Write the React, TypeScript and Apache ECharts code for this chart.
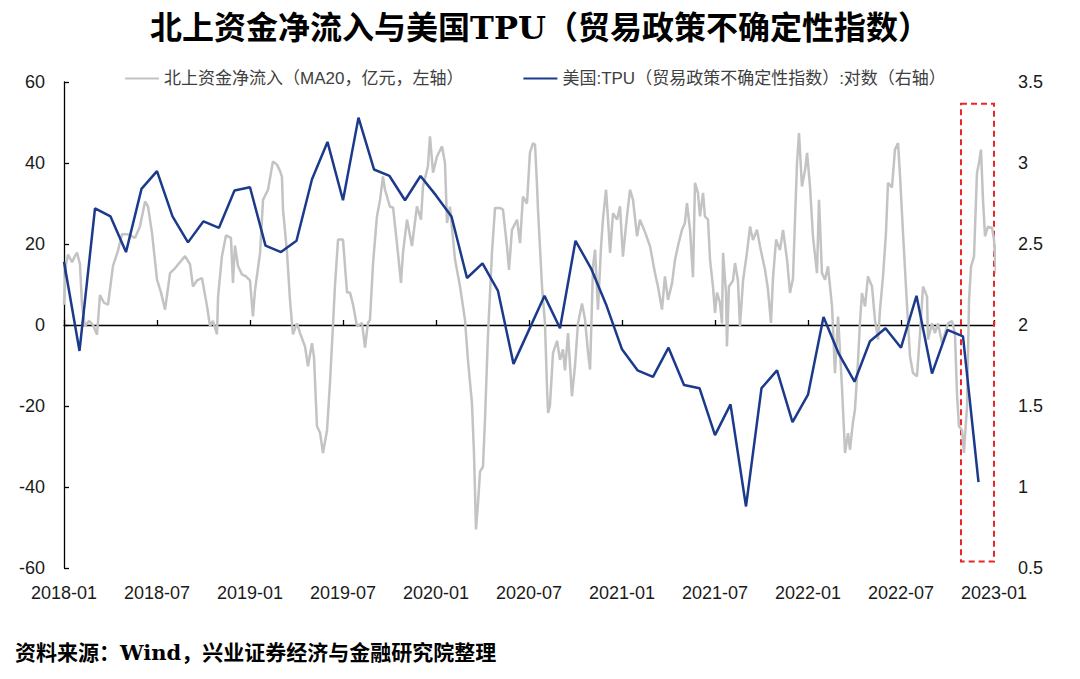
import React, { useEffect, useRef } from 'react';
import * as echarts from 'echarts';

// month offsets from 2018-01 on the x axis
const xTickLabels = [
  '2018-01', '2018-07', '2019-01', '2019-07', '2020-01', '2020-07',
  '2021-01', '2021-07', '2022-01', '2022-07', '2023-01',
];

const leftAxisName = '北上资金净流入（MA20，亿元，左轴）';
const rightAxisName = '美国:TPU（贸易政策不确定性指数）:对数（右轴）';

// monthly log TPU, 2018-01 .. 2022-12
const tpuValues = [
  2.39, 1.84, 2.72, 2.67, 2.45, 2.84, 2.95, 2.67, 2.51, 2.64, 2.6, 2.83,
  2.85, 2.49, 2.45, 2.52, 2.9, 3.13, 2.77, 3.28, 2.96, 2.92, 2.77, 2.92,
  2.8, 2.67, 2.29, 2.38, 2.21, 1.76, 1.97, 2.18, 1.98, 2.52, 2.35, 2.12,
  1.85, 1.72, 1.68, 1.86, 1.63, 1.61, 1.32, 1.51, 0.88, 1.61, 1.72, 1.4,
  1.57, 2.05, 1.82, 1.65, 1.9, 1.98, 1.86, 2.18, 1.7, 1.97, 1.93, 1.03,
];

// northbound net inflow MA20 [month offset, value]
const northbound: [number, number][] = [
  [0, 5], [0.13, 15], [0.26, 17.4], [0.52, 15.5], [0.71, 17], [0.84, 17.9], [1.03, 15],
  [1.16, 5], [1.35, -0.3], [1.61, 1], [1.87, 0], [2.13, -2.4], [2.32, 7.4], [2.58, 5.5],
  [2.84, 5], [3.16, 14.6], [3.48, 18.3], [3.74, 22.4], [4.13, 22.4], [4.58, 21.5], [4.9, 24.3],
  [5.23, 30.5], [5.42, 29.3], [5.68, 22.7], [6.0, 11.2], [6.26, 8], [6.52, 3.8], [6.84, 12.8],
  [7.16, 14], [7.48, 15.5], [7.81, 17], [8.13, 15], [8.32, 9.5], [8.58, 11], [8.9, 11.6],
  [9.23, 4.6], [9.42, -0.3], [9.61, 1], [9.87, -2.3], [9.94, 7], [10.19, 17], [10.45, 22.1],
  [10.77, 21.5], [10.9, 10.4], [11.03, 19.6], [11.23, 14.5], [11.48, 12.5], [11.74, 12],
  [12.0, 11], [12.19, 2.1], [12.32, 8.5], [12.65, 17.8], [12.84, 30.9], [13.16, 33.4],
  [13.48, 40.4], [13.74, 39.6], [13.94, 38], [14.06, 36.6], [14.13, 28.5], [14.39, 17.8],
  [14.58, 6.2], [14.77, -2.3], [15.03, 0.4], [15.23, -2], [15.55, -5.3], [15.74, -10.2],
  [16.0, -4.5], [16.13, -8], [16.32, -25], [16.52, -26.6], [16.71, -31.6], [16.97, -26],
  [17.16, -14.3], [17.35, -0.3], [17.48, 9.6], [17.68, 21.1], [18.0, 21.1], [18.26, 8],
  [18.45, 8], [18.65, 5], [18.9, -0.3], [19.23, 0.5], [19.42, -5.6], [19.61, 0.5],
  [19.74, 1.3], [19.94, 15.3], [20.19, 26.8], [20.39, 30.9], [20.58, 36.7], [20.71, 33.4],
  [21.03, 29.2], [21.23, 29], [21.48, 20.2], [21.74, 10.4], [21.87, 17.8], [22.13, 26],
  [22.45, 19.5], [22.77, 29.3], [23.03, 26], [23.16, 34.2], [23.48, 39.2], [23.61, 46.6],
  [23.81, 37.6], [24.06, 41.6], [24.39, 44.1], [24.58, 40], [24.71, 25.2], [24.9, 29.2],
  [25.23, 16.1], [25.55, 9.5], [25.87, 1.3], [26.06, -8.6], [26.32, -19.3], [26.45, -31.6],
  [26.58, -50.5], [26.71, -44], [26.84, -36.2], [27.03, -35], [27.16, -23.4], [27.35, -2.8],
  [27.61, 17.8], [27.81, 28.9], [28.13, 28.9], [28.32, 28.5], [28.58, 19.4], [28.71, 13.6],
  [28.9, 23.5], [29.23, 26], [29.42, 20.2], [29.61, 31.7], [29.87, 30], [30.06, 42.5],
  [30.26, 44.9], [30.39, 44.5], [30.52, 34.2], [30.58, 28.5], [30.84, 9.5], [31.03, 0.4],
  [31.16, -15.2], [31.23, -21.7], [31.35, -20], [31.55, -6.9], [31.81, -3.9], [32.0, -8.6],
  [32.19, -6], [32.32, -11.2], [32.52, -2], [32.77, -17.6], [32.97, -10], [33.16, 0.4],
  [33.42, 5.3], [33.61, 1.5], [33.81, -6.9], [33.94, -11], [34.13, 14.5], [34.26, 18.6],
  [34.45, 3.8], [34.65, 19.5], [34.77, 26], [34.97, 33.4], [35.1, 26], [35.23, 17.8],
  [35.42, 27.6], [35.68, 26], [35.87, 29.3], [36.06, 16.9], [36.32, 26.8], [36.52, 33.4],
  [36.71, 30.9], [36.97, 21.9], [37.16, 26], [37.48, 23], [37.81, 19.4], [38.13, 12.8],
  [38.32, 9.5], [38.58, 3.8], [38.77, 12], [38.97, 6.2], [39.23, 10.4], [39.42, 16.1],
  [39.61, 19.5], [39.87, 23.5], [40.06, 25.2], [40.19, 30.1], [40.39, 23.5], [40.58, 11.8],
  [40.71, 35.1], [40.9, 32.6], [41.03, 26.8], [41.23, 32.6], [41.35, 26.8], [41.55, 26],
  [41.68, 16.1], [41.87, 9.5], [42.0, 3], [42.13, 8], [42.32, 5.5], [42.45, 0.4],
  [42.52, 17.8], [42.71, 8], [42.77, -5.3], [42.9, 9.5], [43.16, 11], [43.29, 15.3],
  [43.48, 11], [43.61, -0.3], [43.81, 11], [44.06, 17.8], [44.26, 24.3], [44.45, 21],
  [44.71, 23.5], [44.9, 19.5], [45.23, 13.6], [45.42, 8.7], [45.61, 0.5], [45.74, 11.5],
  [45.94, 21.1], [46.19, 18.5], [46.39, 23.5], [46.65, 16.1], [46.84, 7.9], [47.03, 11.5],
  [47.29, 40], [47.42, 47.4], [47.61, 34.2], [47.81, 38.3], [47.94, 42.5], [48.13, 34.2],
  [48.32, 21.9], [48.58, 12.8], [48.71, 30.9], [48.9, 12.8], [49.1, 11.2], [49.29, 14.5],
  [49.55, 4.6], [49.74, -11.9], [49.94, 2.1], [50.19, -15.2], [50.39, -31.6], [50.58, -26.7],
  [50.71, -30.8], [50.9, -24], [51.03, -20.9], [51.23, -8.6], [51.35, 0.5], [51.48, 7.9],
  [51.68, 4.6], [51.87, 12], [52.13, 9.5], [52.32, 1.3], [52.52, -3.6], [52.65, 4],
  [52.84, 12], [53.03, 22.7], [53.16, 35.1], [53.42, 34], [53.61, 43.3], [53.81, 44.9],
  [53.94, 36.7], [54.13, 22.7], [54.26, 13.6], [54.39, 4.6], [54.58, -7.7], [54.77, -11.8],
  [55.03, -12.7], [55.23, -2], [55.42, 9.5], [55.68, 7], [55.74, -3.6], [56.0, 0.4],
  [56.19, -2], [56.39, 0.4], [56.65, -4.5], [56.84, -2], [57.03, 0.4], [57.29, 1],
  [57.48, -2], [57.61, -16.8], [57.74, -25], [57.94, -26], [58.06, -31.6], [58.26, -20.1],
  [58.39, 6.2], [58.52, 14.5], [58.71, 16.9], [58.9, 37.5], [59.03, 40], [59.16, 43.3],
  [59.29, 30.9], [59.42, 21.9], [59.61, 24.3], [59.87, 24], [60.0, 21.1], [60.13, 12.8],
  [60.19, 20],
];

// dashed highlight box: [month from, month to], [value from, value to] on the left axis
const highlightMonths = [57.87, 60.77];
const highlightValues = [54.6, -58.4];

const labelFont = 'Liberation Sans';
const cjkFont = '"Liberation Sans", "Noto Sans CJK SC"';
const serifFont = '"DejaVu Serif", "Noto Sans CJK SC", serif';

const App: React.FC = () => {
  const chartRef = useRef<HTMLDivElement | null>(null);

  useEffect(() => {
    if (!chartRef.current) return;
    const myChart = echarts.init(chartRef.current, null, { renderer: 'svg' });

    const option = {
      animation: false,
      backgroundColor: '#ffffff',
      title: {
        text: '北上资金净流入与美国TPU（贸易政策不确定性指数）',
        left: 'center',
        top: 7,
        textStyle: {
          fontFamily: serifFont,
          fontWeight: 'bold',
          fontSize: 32,
          color: '#000000',
        },
      },
      legend: {
        left: 120,
        top: 65,
        itemGap: 60,
        itemWidth: 34,
        itemHeight: 2,
        icon: 'rect',
        textStyle: { fontFamily: cjkFont, fontSize: 17, color: '#404040' },
        data: [leftAxisName, rightAxisName],
      },
      graphic: [
        {
          type: 'text',
          left: 15,
          top: 642,
          style: {
            text: '资料来源：Wind，兴业证券经济与金融研究院整理',
            fontFamily: serifFont,
            fontWeight: 'bold',
            fontSize: 21,
            fill: '#000000',
          },
        },
      ],
      grid: { left: 64, right: 86, top: 82, bottom: 111 },
      xAxis: [
        {
          type: 'value',
          min: 0,
          max: 60,
          interval: 6,
          axisLine: { show: false, onZero: false },
          axisTick: { show: false },
          splitLine: { show: false },
          axisLabel: {
            margin: 16,
            fontFamily: labelFont,
            fontSize: 18,
            color: '#1a1a1a',
            formatter: (v: number) => xTickLabels[Math.round(v / 6)] ?? '',
          },
        },
        {
          type: 'value',
          min: 0,
          max: 60,
          interval: 6,
          position: 'bottom',
          axisLine: { show: true, onZero: true, onZeroAxisIndex: 0, lineStyle: { color: '#000000', width: 1.3 } },
          axisTick: { show: true, inside: true, length: 5, lineStyle: { color: '#000000', width: 1.3 } },
          axisLabel: { show: false },
          splitLine: { show: false },
        },
      ],
      yAxis: [
        {
          type: 'value',
          min: -60,
          max: 60,
          interval: 20,
          axisLine: { show: true, lineStyle: { color: '#000000', width: 1.3 } },
          axisTick: { show: true, inside: true, length: 5, lineStyle: { color: '#000000', width: 1.3 } },
          splitLine: { show: false },
          axisLabel: { margin: 19, fontFamily: labelFont, fontSize: 18, color: '#1a1a1a' },
        },
        {
          type: 'value',
          min: 0.5,
          max: 3.5,
          interval: 0.5,
          position: 'right',
          axisLine: { show: false },
          axisTick: { show: false },
          splitLine: { show: false },
          axisLabel: { margin: 24, fontFamily: labelFont, fontSize: 18, color: '#1a1a1a' },
        },
      ],
      series: [
        {
          name: leftAxisName,
          type: 'line',
          xAxisIndex: 0,
          yAxisIndex: 0,
          data: northbound,
          showSymbol: false,
          clip: false,
          lineStyle: { color: '#c3c3c3', width: 2.5 },
          itemStyle: { color: '#c3c3c3' },
          markArea: {
            silent: true,
            itemStyle: {
              color: 'rgba(0,0,0,0)',
              borderColor: '#e8262a',
              borderWidth: 2,
              borderType: [6, 4],
            },
            data: [
              [
                { xAxis: highlightMonths[0], yAxis: highlightValues[0] },
                { xAxis: highlightMonths[1], yAxis: highlightValues[1] },
              ],
            ],
          },
          z: 2,
        },
        {
          name: rightAxisName,
          type: 'line',
          xAxisIndex: 0,
          yAxisIndex: 1,
          data: tpuValues.map((v, i) => [i, v]),
          showSymbol: false,
          lineStyle: { color: '#1c3a8c', width: 2.5 },
          itemStyle: { color: '#1c3a8c' },
          z: 3,
        },
      ],
    };

    myChart.setOption(option);

    return () => {
      myChart.dispose();
    };
  }, []);

  return (
    <div
      ref={chartRef}
      style={{ position: 'absolute', left: 0, top: 0, width: '1080px', height: '679px' }}
    />
  );
};

export default App;
